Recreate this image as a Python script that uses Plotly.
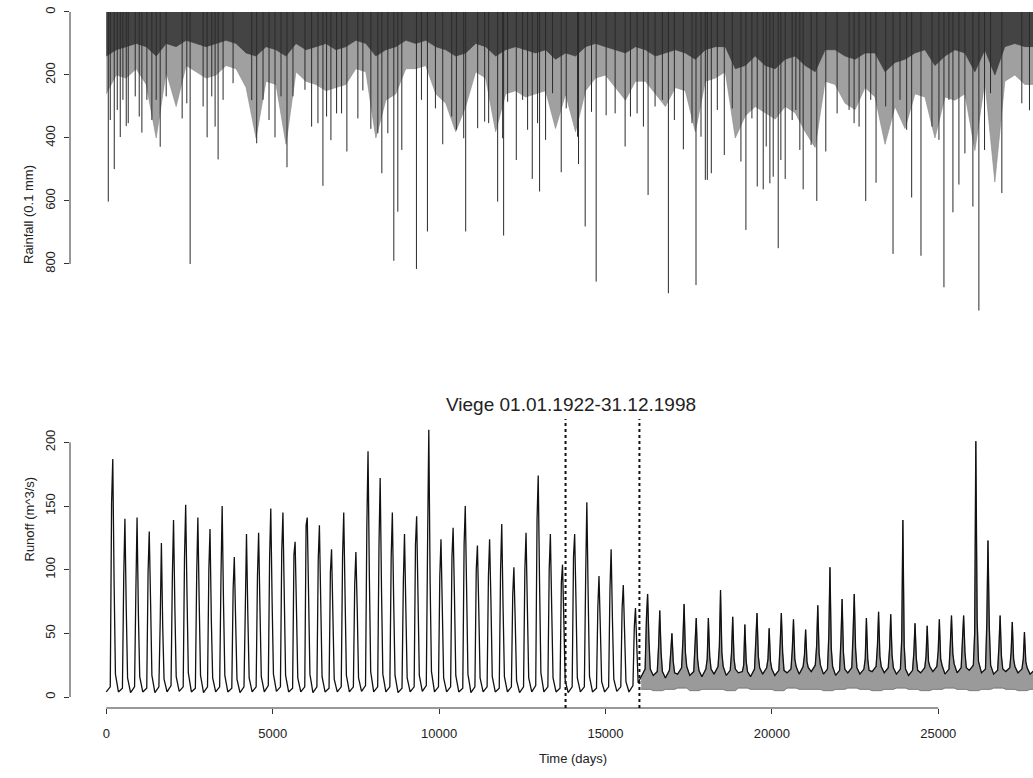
import plotly.graph_objects as go
import pandas as pd

# ---------------- Rainfall (daily, 0.1 mm) ----------------
# envelope of the dense daily band, sampled every 300 days
env_days = list(range(0, 27901, 300))
rain_core = [140, 120, 110, 100, 110, 140, 100, 110, 90, 100,
             110, 100, 90, 100, 130, 140, 110, 120, 140, 100,
             120, 110, 100, 120, 110, 90, 100, 140, 120, 110,
             90, 100, 90, 110, 120, 140, 130, 100, 110, 140,
             120, 110, 120, 130, 120, 150, 130, 140, 110, 100,
             110, 120, 130, 110, 120, 140, 130, 120, 130, 150,
             120, 110, 110, 180, 170, 140, 170, 180, 150, 140,
             170, 190, 120, 120, 140, 150, 130, 130, 190, 160,
             150, 130, 120, 170, 140, 120, 130, 190, 120, 200,
             110, 100, 110, 110]
rain_outer = [260, 200, 210, 180, 230, 400, 190, 300, 170, 190,
              210, 200, 170, 180, 240, 400, 220, 230, 420, 190,
              220, 230, 250, 240, 230, 180, 190, 400, 280, 260,
              180, 180, 170, 260, 290, 380, 300, 190, 210, 380,
              260, 250, 270, 260, 250, 370, 260, 380, 250, 210,
              200, 240, 280, 220, 220, 260, 300, 240, 250, 380,
              220, 210, 190, 400, 330, 300, 320, 340, 300, 320,
              380, 430, 220, 230, 290, 310, 240, 270, 420, 300,
              370, 260, 270, 400, 270, 280, 260, 440, 220, 540,
              220, 200, 230, 230]

# individual heavy-rain days
spike_days = [60, 240, 420, 600, 1070, 1620, 2520, 3030, 3360, 4520, 5070, 5430,
              6510, 6750, 7230, 7560, 7950, 8280, 8640, 8760, 8880, 9320, 9650,
              10110, 10800, 11760, 11940, 12320, 12800, 13020, 13670, 14190, 14390,
              14720, 15020, 15590, 16280, 16890, 17340, 17720, 18000, 18060, 18180,
              18570, 19070, 19220, 19560, 19740, 19940, 20190, 20400, 20940, 21350,
              21620, 22820, 23130, 23640, 24200, 24480, 25170, 25440, 25620, 26040,
              26220, 26390, 26910, 27510, 27740,
              120, 330, 500, 660, 870, 990, 1220, 1370, 1500, 1800, 2280, 2420,
              2910, 3170, 3270, 3510, 3810, 4370, 4710, 4890, 5250, 5610, 5970,
              6170, 6360, 6620, 6920, 7070,
              7710, 8160, 8460, 9470, 9890, 10380, 10520, 10740, 11160, 11370, 11490,
              11910, 12060, 12510, 12660, 12960, 13200, 13410, 13820, 14160, 14580,
              15290, 15750, 15950, 16140, 16490, 16710, 17070,
              17600, 17870, 18360, 18810, 19400, 19830, 20040, 20270, 20610, 20720,
              20840, 21180, 21960, 22320, 22470, 22620, 22970, 23420, 23850, 24050,
              24810, 25020, 25320, 25800, 26570]
spike_vals = [602, 499, 397, 362, 383, 428, 800, 398, 468, 417, 398, 493,
              552, 407, 443, 338, 371, 512, 790, 634, 438, 816, 697,
              420, 697, 602, 710, 470, 530, 570, 509, 483, 681,
              856, 328, 427, 581, 893, 436, 867, 533, 533, 512,
              454, 475, 692, 554, 563, 544, 750, 530, 563, 600,
              443, 600, 542, 768, 589, 774, 874, 636, 548, 618,
              948, 438, 575, 290, 312,
              343, 311, 279, 353, 268, 332, 279, 343, 279, 268, 338, 290,
              300, 268, 364, 279, 226, 280, 279, 343, 268, 268, 247,
              364, 353, 332, 322, 322,
              249, 385, 385, 279, 306, 332, 374, 401, 369, 348, 353,
              401, 285, 279, 374, 353, 406, 258, 306, 396, 317,
              322, 332, 322, 364, 300, 279, 343,
              353, 396, 311, 306, 338, 427, 523, 470, 343, 311,
              438, 422, 322, 311, 353, 364, 279, 300, 279, 374,
              364, 406, 279, 449, 258]

# ---------------- Runoff (m^3/s), one seasonal cycle per year ----------------
years = list(range(1922, 1999))
season_doy = [0, 120, 160, 195, 235, 275]   # Jan, end Apr, mid Jun, mid Jul, late Aug, early Oct
peak_q = [187, 140, 141, 130, 121, 139, 151, 141, 132, 150,
          110, 128, 129, 148, 145, 122, 141, 135, 116, 145,
          114, 193, 172, 145, 128, 142, 210, 124, 133, 150,
          119, 124, 136, 102, 129, 174, 128, 104, 128, 153,
          95, 116, 88, 70, 81, 68, 50, 73, 62, 62,
          84, 63, 57, 66, 54, 66, 61, 53, 72, 102,
          77, 81, 62, 67, 65, 139, 58, 56, 61, 64,
          64, 201, 123, 64, 59, 51, 48]
rise_q = [153, 95, 85, 98, 60, 95, 110, 96, 100, 95,
          85, 70, 95, 110, 115, 112, 135, 108, 98, 110,
          88, 135, 120, 110, 90, 120, 125, 95, 110, 120,
          100, 95, 100, 80, 100, 140, 100, 90, 110, 95,
          70, 85, 70, 55, 62, 40, 35, 45, 42, 30,
          40, 35, 25, 45, 30, 42, 38, 33, 40, 48,
          45, 50, 30, 40, 38, 45, 35, 32, 36, 42,
          45, 50, 58, 40, 35, 30, 28]
fall_q = [90, 70, 65, 75, 55, 70, 80, 75, 60, 75,
          60, 65, 70, 75, 80, 70, 80, 75, 65, 80,
          70, 95, 85, 75, 70, 80, 90, 70, 80, 85,
          70, 75, 70, 60, 70, 90, 70, 60, 75, 80,
          55, 60, 50, 40, 45, 35, 28, 35, 30, 32,
          35, 30, 28, 32, 28, 35, 30, 28, 34, 38,
          35, 38, 30, 32, 33, 40, 30, 28, 30, 34,
          35, 60, 55, 32, 30, 28, 26]
winter_q = [4, 4, 3.5, 4, 3.5, 4, 4.5, 4, 3.5, 4,
            4, 3.5, 4, 4, 4.5, 4, 4, 3.5, 4, 4,
            4, 4.5, 4, 4, 3.5, 4, 4.5, 4, 4, 4,
            3.5, 4, 4, 4, 3.5, 4, 4, 4, 3.5, 4,
            4, 4, 4.5, 4, 16, 17, 15, 18, 17, 16,
            18, 17, 19, 16, 18, 17, 19, 18, 20, 18,
            17, 19, 18, 20, 19, 18, 17, 19, 20, 18,
            19, 21, 19, 18, 20, 19, 18]
spring_q = [8, 7, 8, 7, 8, 9, 8, 7, 8, 8,
            7, 8, 8, 9, 8, 7, 8, 8, 7, 8,
            8, 9, 8, 8, 7, 8, 9, 8, 8, 7,
            8, 8, 7, 8, 8, 9, 8, 7, 8, 8,
            7, 8, 8, 9, 22, 20, 21, 23, 20, 22,
            24, 21, 20, 22, 23, 21, 22, 24, 25, 22,
            21, 23, 22, 24, 23, 22, 21, 23, 24, 22,
            23, 25, 22, 21, 23, 22, 21]
autumn_q = [18, 15, 16, 17, 14, 16, 19, 17, 15, 17,
            14, 15, 16, 18, 17, 15, 18, 16, 14, 17,
            15, 20, 18, 17, 15, 17, 20, 15, 17, 18,
            15, 16, 16, 13, 15, 19, 15, 13, 15, 16,
            12, 14, 12, 11, 22, 20, 19, 24, 21, 22,
            24, 22, 20, 23, 22, 21, 24, 23, 25, 24,
            22, 23, 21, 24, 23, 22, 21, 24, 25, 26,
            23, 28, 25, 22, 24, 23, 22]
# low daily values in the regulated period (from 1966 on)
regulated_from = 44
winter_lo = [6, 5, 6, 7, 5, 6, 6, 5, 7, 6,
             6, 5, 7, 6, 6, 5, 6, 7, 6, 5,
             6, 7, 6, 5, 6, 7, 6, 5, 6, 7,
             6, 5, 6]
breaks_days = [13800, 16020]

# ---------------- build series ----------------
t0 = pd.Timestamp("1922-01-01")
year_start = [(pd.Timestamp(f"{y}-01-01") - t0).days for y in years]
end_day = (pd.Timestamp("1998-12-31") - t0).days

qx, qy = [], []
bx, blo, bhi = [], [], []
for k in range(len(years)):
    vals = [winter_q[k], spring_q[k], rise_q[k], peak_q[k], fall_q[k], autumn_q[k]]
    for d, v in zip(season_doy, vals):
        qx.append(year_start[k] + d)
        qy.append(v)
        if k >= regulated_from:
            bx.append(year_start[k] + d)
            bhi.append(v)
            blo.append(winter_lo[k - regulated_from])
qx.append(end_day)
qy.append(winter_q[-1])
bx.append(end_day)
bhi.append(winter_q[-1])
blo.append(winter_lo[-1])

sx, sy = [], []
for d, v in zip(spike_days, spike_vals):
    sx += [d, d, None]
    sy += [0, v, None]

fig = go.Figure()
fig.add_trace(go.Scatter(x=env_days, y=rain_outer, mode="lines", fill="tozeroy",
                         line=dict(color="#8a8a8a", width=0.6), fillcolor="#a0a0a0",
                         xaxis="x", yaxis="y", hoverinfo="skip"))
fig.add_trace(go.Scatter(x=env_days, y=rain_core, mode="lines", fill="tozeroy",
                         line=dict(color="#3a3a3a", width=0.6), fillcolor="#444444",
                         xaxis="x", yaxis="y", hoverinfo="skip"))
fig.add_trace(go.Scatter(x=sx, y=sy, mode="lines", line=dict(color="#2a2a2a", width=1),
                         xaxis="x", yaxis="y", hoverinfo="skip"))

fig.add_trace(go.Scatter(x=bx, y=blo, mode="lines", line=dict(color="#555555", width=0.6),
                         xaxis="x2", yaxis="y2", hoverinfo="skip"))
fig.add_trace(go.Scatter(x=bx, y=bhi, mode="lines", fill="tonexty", fillcolor="#9a9a9a",
                         line=dict(color="#555555", width=0.6),
                         xaxis="x2", yaxis="y2", hoverinfo="skip"))
fig.add_trace(go.Scatter(x=qx, y=qy, mode="lines", line=dict(color="#111111", width=1.3),
                         xaxis="x2", yaxis="y2", hoverinfo="skip"))

W, H = 1033, 778
def px(x):
    return x / W
def py(y):
    return 1 - y / H

xr = [-1090, 27846]
font = "Liberation Sans, Arial, Helvetica, sans-serif"
tick_font = dict(family=font, size=13, color="#222")

shapes = [
    dict(type="line", xref="x domain", yref="y", x0=0, x1=0, y0=0, y1=800,
         line=dict(color="#333", width=1)),
    dict(type="line", xref="x2 domain", yref="y2", x0=0, x1=0, y0=0, y1=200,
         line=dict(color="#333", width=1)),
    dict(type="line", xref="x2", yref="y2 domain", x0=0, x1=25000, y0=0, y1=0,
         line=dict(color="#333", width=1)),
]
for b in breaks_days:
    shapes.append(dict(type="line", xref="x2", yref="y2 domain", x0=b, x1=b, y0=0, y1=1,
                       line=dict(color="#111", width=2, dash="dot")))

top_dom = [py(320), py(6)]
bot_dom = [py(708), py(419)]

fig.update_layout(
    template="none",
    width=W, height=H,
    margin=dict(l=0, r=0, t=0, b=0, pad=0),
    paper_bgcolor="white", plot_bgcolor="white",
    showlegend=False,
    font=dict(family=font, color="#222"),
    xaxis=dict(domain=[px(70), 1], range=xr, visible=False, anchor="y", automargin=False),
    yaxis=dict(domain=top_dom, range=[978, -19], anchor="x", automargin=False,
               tickvals=[0, 200, 400, 600, 800], ticks="outside", ticklen=5,
               tickcolor="#333", tickangle=-90, tickfont=tick_font,
               showgrid=False, zeroline=False, showline=False,
               ticklabelstandoff=4, ticklabeloverflow="allow"),
    xaxis2=dict(domain=[px(70), 1], range=xr, anchor="y2", automargin=False,
                tickvals=[0, 5000, 10000, 15000, 20000, 25000], tickformat="d",
                ticks="outside", ticklen=5, tickcolor="#333", tickfont=tick_font,
                showgrid=False, zeroline=False, showline=False,
                ticklabelstandoff=8, ticklabeloverflow="allow"),
    yaxis2=dict(domain=bot_dom, range=[-8.6, 218.4], anchor="x2", automargin=False,
                tickvals=[0, 50, 100, 150, 200], ticks="outside", ticklen=5,
                tickcolor="#333", tickangle=-90, tickfont=tick_font,
                showgrid=False, zeroline=False, showline=False,
                ticklabelstandoff=4, ticklabeloverflow="allow"),
    shapes=shapes,
    annotations=[
        dict(text="Rainfall (0.1 mm)", x=px(19), y=py(163),
             xref="paper", yref="paper", textangle=-90, showarrow=False,
             font=dict(family=font, size=13, color="#222")),
        dict(text="Runoff (m^3/s)", x=px(19), y=(bot_dom[0] + bot_dom[1]) / 2,
             xref="paper", yref="paper", textangle=-90, showarrow=False,
             font=dict(family=font, size=13, color="#222")),
        dict(text="Viege 01.01.1922-31.12.1998", x=px(571), y=py(404),
             xref="paper", yref="paper", showarrow=False,
             font=dict(family=font, size=19, color="#222")),
        dict(text="Time (days)", x=px(573), y=py(768),
             xref="paper", yref="paper", showarrow=False,
             font=dict(family=font, size=13, color="#222")),
    ],
)

# remove the browser's default 8 px page margin so the figure fills the window
fig.write_html("out.html", config={"displayModeBar": False},
               post_script="document.body.style.margin='0';")
